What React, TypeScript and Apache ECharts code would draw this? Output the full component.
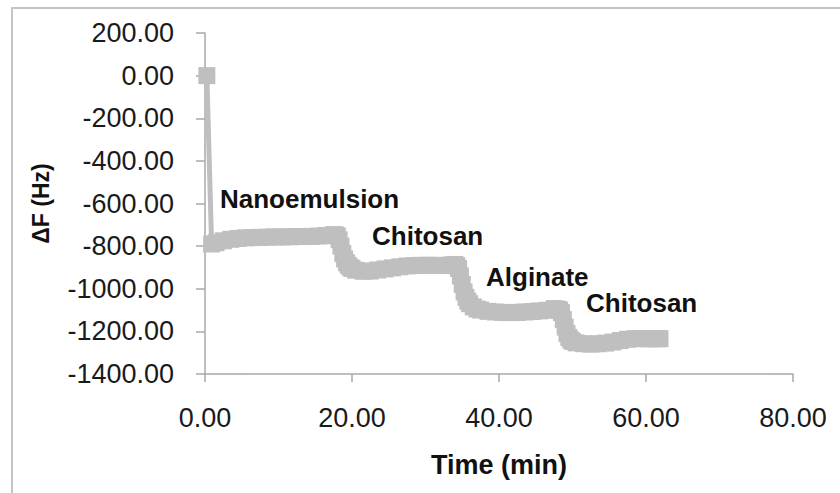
import React, { useEffect, useRef } from "react";
import * as echarts from "echarts";

// Sampling times (min) and frequency shift (Hz) of the QCM trace
const minutes = [
  0.25, 0.9, 1.5, 2.5, 3.5, 4.5, 5.5, 6.5, 7.5, 8.5, 9.5, 10.5, 11.5, 12.5,
  13.5, 14.5, 15.5, 16.5, 17.5, 17.75, 18, 18.25, 18.5, 18.75, 19, 19.25,
  19.5, 19.75, 20, 20.5, 21.5, 22.5, 23.5, 24.5, 25.5, 26.5, 27.5, 28.5,
  29.5, 30.5, 31.5, 32.5, 33.5, 34, 34.25, 34.5, 34.75, 35, 35.25, 35.5,
  35.75, 36, 36.5, 37, 37.5, 38.5, 39.5, 40.5, 41.5, 42.5, 43.5, 44.5, 45.5,
  46.5, 47.5, 48, 48.25, 48.5, 48.75, 49, 49.25, 49.5, 49.75, 50, 50.5, 51.5,
  52.5, 53.5, 54.5, 55.5, 56.5, 57.5, 58.5, 59.5, 60.5, 61.5, 61.9,
];
const deltaF = [
  0, -790, -784, -775, -768, -764, -761, -760, -759, -758, -757, -757, -756,
  -755, -755, -754, -753, -750, -746, -748, -752, -770, -800, -835, -860,
  -878, -890, -899, -905, -913, -918, -917, -912, -907, -902, -897, -893,
  -891, -890, -890, -890, -891, -888, -886, -892, -905, -940, -980, -1015,
  -1040, -1058, -1070, -1085, -1095, -1100, -1106, -1109, -1111, -1112,
  -1111, -1109, -1107, -1104, -1101, -1093, -1096, -1100, -1112, -1145,
  -1180, -1210, -1228, -1240, -1247, -1254, -1258, -1260, -1258, -1255,
  -1250, -1243, -1237, -1234, -1234, -1235, -1235, -1234,
];

// Deposition steps annotated along the trace
const stepLabels = ["Nanoemulsion", "Chitosan", "Alginate", "Chitosan"];
const stepLabelPos: [number, number][] = [
  [220, 199],
  [372, 236],
  [486, 277],
  [586, 303],
];

const yTicks = { min: -1400, max: 200, interval: 200 };
const xTicks = { min: 0, max: 80, interval: 20 };

const SANS = '"Liberation Sans", Arial, sans-serif';

export default function App() {
  const ref = useRef<HTMLDivElement>(null);

  useEffect(() => {
    document.body.style.margin = "0";
    if (!ref.current) return;
    const chart = echarts.init(ref.current, undefined, { renderer: "svg" });
    const axisColor = "#a8a8a8";

    chart.setOption({
      animation: false,
      backgroundColor: "#ffffff",
      grid: { left: 205, right: 47, top: 33, bottom: 119 },
      xAxis: {
        type: "value",
        min: xTicks.min,
        max: xTicks.max,
        interval: xTicks.interval,
        name: "Time (min)",
        nameLocation: "middle",
        nameGap: 77,
        nameTextStyle: {
          fontFamily: SANS,
          fontWeight: "bold",
          fontSize: 27,
          color: "#111",
        },
        splitLine: { show: false },
        axisLine: { onZero: false, lineStyle: { color: axisColor, width: 1.5 } },
        axisTick: { length: 8, lineStyle: { color: axisColor, width: 1.5 } },
        axisLabel: {
          margin: 30,
          fontFamily: SANS,
          fontSize: 27,
          color: "#1a1a1a",
          formatter: (v: number) => v.toFixed(2),
        },
      },
      yAxis: {
        type: "value",
        min: yTicks.min,
        max: yTicks.max,
        interval: yTicks.interval,
        name: "ΔF (Hz)",
        nameLocation: "middle",
        nameGap: 153,
        nameRotate: 90,
        nameTextStyle: {
          fontFamily: SANS,
          fontWeight: "bold",
          fontSize: 23,
          color: "#111",
        },
        splitLine: { show: false },
        axisLine: { show: true, onZero: false, lineStyle: { color: axisColor, width: 1.5 } },
        axisTick: { show: true, length: 9, lineStyle: { color: axisColor, width: 1.5 } },
        axisLabel: {
          margin: 31,
          fontFamily: SANS,
          fontSize: 27,
          color: "#1a1a1a",
          formatter: (v: number) => v.toFixed(2),
        },
      },
      series: [
        {
          type: "line",
          data: minutes.map((t, i) => [t, deltaF[i]]),
          symbol: "rect",
          symbolSize: 17,
          showAllSymbol: true,
          itemStyle: { color: "#bfbfbf" },
          lineStyle: { color: "#bfbfbf", width: 5 },
          z: 3,
        },
      ],
      graphic: [
        {
          type: "rect",
          shape: { x: 12, y: 8, width: 900, height: 600 },
          style: { fill: "none", stroke: "#c4c4c4", lineWidth: 2 },
          silent: true,
          z: 0,
        },
        ...stepLabels.map((text, i) => ({
          type: "text",
          x: stepLabelPos[i][0],
          y: stepLabelPos[i][1],
          z: 10,
          style: {
            text,
            font: `bold 26px ${SANS}`,
            fill: "#111",
            textAlign: "left",
            textVerticalAlign: "middle",
          },
        })),
      ],
    });

    return () => chart.dispose();
  }, []);

  return <div ref={ref} style={{ width: 840, height: 493 }} />;
}
